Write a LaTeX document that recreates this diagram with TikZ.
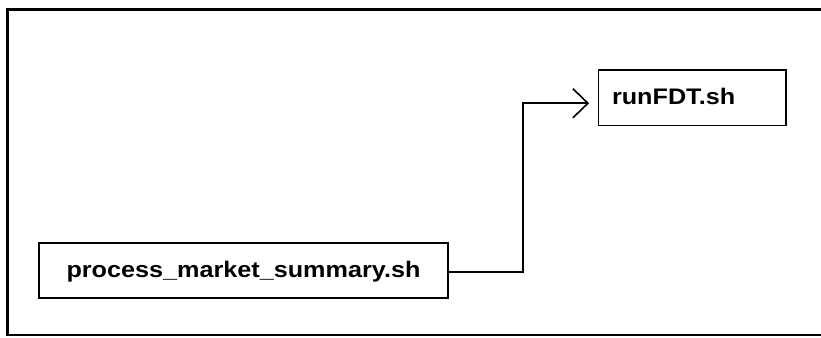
\documentclass[tikz,border=0pt]{standalone}
\usepackage{fontspec}
\newfontfamily\boxfont{Liberation Sans}[FakeStretch=1.12]
\usetikzlibrary{arrows.meta}
\tikzset{
  filebox/.style={draw=black, line width=1.8pt, fill=white, inner sep=0pt,
    font=\boxfont\bfseries\fontsize{22.5}{27}\selectfont,
    text height=16pt, text depth=2.75pt},
  conn/.style={draw=black, line width=1.7pt, line join=miter},
  frameline/.style={draw=black, line cap=rect}
}
\begin{document}
\begin{tikzpicture}[x=1pt,y=-1pt]
  \useasboundingbox[fill=white] (0,0) rectangle (821,337);
  % outer frame (no right side visible)
  \draw[frameline, line width=3pt] (821,9.5) -- (7,9.5) -- (7,334.5);
  \draw[frameline, line width=2pt] (7,334.5) -- (821,334.5);
  % nodes
  \node[filebox, minimum width=409pt, minimum height=55pt] (p) at (243.5,270.5) {process\_market\_summary.sh};
  \node[filebox, minimum height=55.5pt, inner xsep=13.5pt, text width=160.5pt, align=left] (f) at (692.25,97.75) {runFDT.sh};
  % connector
  \draw[conn, -{Straight Barb[length=15pt, width=29pt, line width=1.6pt]}, shorten >=8.5pt]
    ([yshift=-1.5pt]p.east) -- ++(74,0) |- ([yshift=-5.5pt]f.west);
\end{tikzpicture}
\end{document}
